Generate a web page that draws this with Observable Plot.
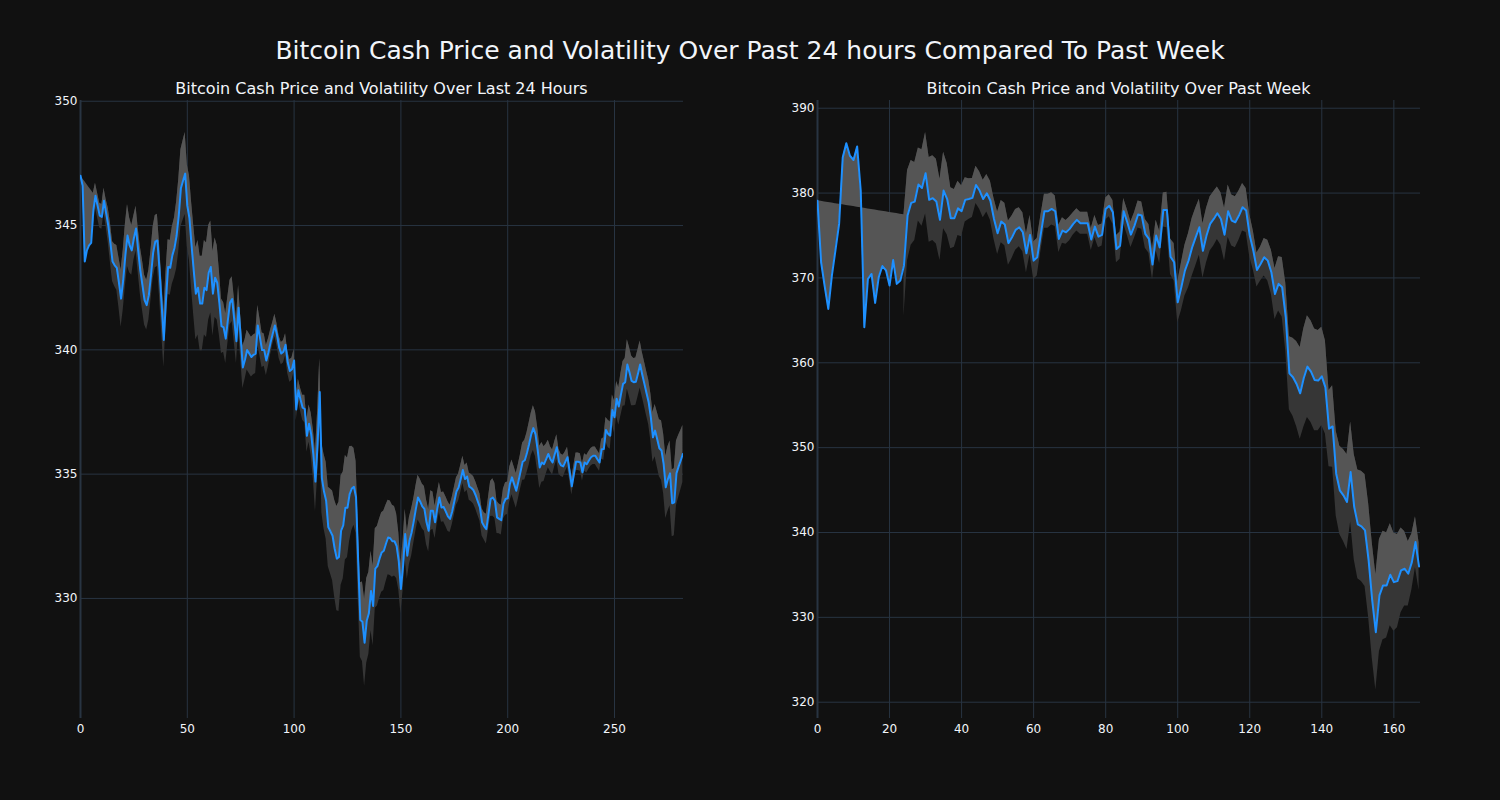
<!DOCTYPE html>
<html><head><meta charset="utf-8">
<script src="https://cdn.jsdelivr.net/npm/d3@7"></script>
<script src="https://cdn.jsdelivr.net/npm/@observablehq/plot@0.6"></script>
<style>
html,body{margin:0;padding:0;background:#111111;}
#root{position:relative;width:1500px;height:800px;background:#111111;font-family:"DejaVu Sans",sans-serif;color:#f2f5fa;overflow:hidden}
.title{position:absolute;left:0;width:1500px;top:38px;text-align:center;font-size:25px;line-height:1}
.sub{position:absolute;font-size:16px;text-align:center;width:603px;top:81px;line-height:1}
.chart{position:absolute;top:0}
</style></head><body>
<div id="root">
  <div class="title">Bitcoin Cash Price and Volatility Over Past 24 hours Compared To Past Week</div>
  <div class="sub" style="left:80px">Bitcoin Cash Price and Volatility Over Last 24 Hours</div>
  <div class="sub" style="left:817px">Bitcoin Cash Price and Volatility Over Past Week</div>
  <div class="chart" id="c1" style="left:0px"></div>
  <div class="chart" id="c2" style="left:737px"></div>
</div>
<script>
// ---- 24 hours ----
const price24 = [
347.0,346.6,343.55,344.0,344.2,344.3,345.6,346.2,345.8,345.4,
345.35,346.0,345.5,345.0,344.3,343.55,343.4,343.3,342.7,342.06,
342.8,343.8,344.6,344.2,344.0,344.5,344.88,344.0,343.2,342.6,
342.0,341.8,342.2,343.0,343.9,344.35,344.4,343.2,341.8,340.4,
342.0,343.33,343.3,343.8,344.1,344.6,345.4,346.5,346.8,347.09,
345.8,345.3,344.2,343.2,342.26,342.5,341.86,341.86,342.5,342.4,
343.1,343.33,342.26,342.9,342.7,341.9,340.95,340.9,340.45,341.2,
341.9,342.04,341.2,340.35,341.69,340.5,339.29,339.6,339.99,339.85,
339.71,339.8,339.85,340.98,340.5,339.99,339.99,339.57,339.9,340.3,
340.65,340.98,340.6,340.1,339.85,339.92,340.2,339.5,339.15,339.22,
339.57,337.6,338.37,338.0,337.67,337.62,336.54,337.03,336.6,335.8,
334.7,336.2,338.3,334.84,334.3,333.93,332.87,332.7,332.52,332.0,
331.6,331.67,332.73,332.94,333.65,333.65,334.2,334.42,334.49,334.07,
331.5,329.13,329.06,328.22,329.1,329.4,330.3,329.7,331.2,331.3,
331.6,331.85,331.92,332.2,332.45,332.42,332.3,332.3,332.1,331.5,
330.38,331.3,332.59,331.72,332.32,332.65,333.1,333.6,334.06,333.9,
333.7,333.6,333.06,332.72,333.53,333.53,333.06,333.6,334.06,333.66,
333.68,333.5,333.3,333.2,333.5,333.9,334.3,334.46,334.8,335.17,
334.8,334.9,334.5,334.44,334.35,334.15,333.9,333.66,333.06,332.9,
332.79,333.4,334.0,334.06,333.93,333.26,333.2,333.15,333.8,334.0,
334.03,334.6,334.87,334.6,334.33,334.7,335.1,335.5,335.56,335.85,
336.2,336.6,336.85,336.61,336.0,335.27,335.47,335.4,335.6,335.81,
335.6,335.47,335.8,336.08,335.5,335.35,335.31,335.5,335.68,335.1,
334.51,335.0,335.5,335.5,335.47,335.07,335.47,335.4,335.55,335.68,
335.74,335.74,335.6,335.47,336.0,336.01,336.78,336.62,336.55,337.58,
337.29,338.03,337.72,338.2,338.63,338.7,339.41,339.1,338.75,338.7,
338.72,339.05,339.41,339.0,338.63,338.25,337.89,337.29,336.48,336.75,
336.4,336.04,335.95,335.41,334.47,334.8,335.03,333.83,333.87,335.03,
335.3,335.55,335.81
];
const vol24 = [
null,null,null,null,null,null,0.7,0.5,0.5,0.5,
0.5,0.5,0.55,0.7,0.8,0.8,0.85,0.9,1.0,1.15,
1.2,1.25,1.25,1.1,1.0,0.9,0.9,0.9,0.95,1.0,
1.0,1.0,1.0,1.0,1.05,1.05,1.05,1.05,1.1,1.1,
1.1,1.1,1.1,1.15,1.2,1.35,1.45,1.55,1.6,1.65,
1.65,1.7,1.75,1.8,1.85,1.9,1.9,1.9,1.9,1.9,
1.9,1.85,1.7,1.6,1.5,1.3,1.1,1.0,1.0,0.95,
0.9,0.9,0.9,0.9,0.9,0.85,0.85,0.8,0.8,0.8,
0.8,0.8,0.8,0.8,0.75,0.7,0.65,0.6,0.55,0.5,
0.45,0.45,0.45,0.45,0.45,0.45,0.45,0.45,0.45,0.45,
0.45,0.45,0.45,0.45,0.5,0.55,0.65,0.75,0.85,1.0,
1.2,1.3,1.35,1.4,1.5,1.55,1.6,1.7,1.8,1.95,
2.1,2.2,2.2,2.15,2.1,2.0,1.9,1.7,1.55,1.45,
1.45,1.5,1.6,1.75,1.7,1.65,1.6,1.6,1.6,1.6,
1.6,1.6,1.6,1.55,1.5,1.5,1.45,1.4,1.3,1.15,
1.0,1.0,1.0,0.95,0.95,0.95,0.9,0.9,0.9,0.9,
0.9,0.9,0.9,0.85,0.8,0.75,0.65,0.6,0.6,0.6,
0.6,0.6,0.6,0.55,0.55,0.55,0.55,0.55,0.55,0.55,
0.55,0.55,0.55,0.55,0.55,0.55,0.55,0.55,0.55,0.55,
0.6,0.65,0.7,0.75,0.7,0.65,0.6,0.6,0.6,0.65,
0.65,0.7,0.7,0.7,0.7,0.7,0.7,0.75,0.8,0.8,
0.85,0.85,0.9,0.9,0.9,0.85,0.8,0.7,0.6,0.55,
0.5,0.5,0.5,0.5,0.5,0.45,0.45,0.4,0.4,0.35,
0.35,0.35,0.35,0.35,0.35,0.35,0.35,0.35,0.35,0.35,
0.35,0.35,0.35,0.35,0.4,0.45,0.5,0.55,0.55,0.6,
0.65,0.7,0.75,0.85,0.9,0.95,1.0,1.0,1.0,0.95,
0.95,0.95,0.95,0.9,0.9,0.9,0.9,0.95,1.0,1.05,
1.1,1.15,1.2,1.2,1.25,1.3,1.3,1.35,1.35,1.3,
1.25,1.2,1.15
];
// ---- past week ----
const priceWeek = [
379.1,371.85,369.0,366.35,370.3,373.3,376.37,384.2,385.87,384.4,
383.9,385.5,380.3,364.2,369.9,370.47,367.05,370.1,371.4,370.9,
369.1,372.1,369.3,369.7,371.45,377.35,378.84,379.0,381.0,380.6,
382.34,379.2,379.4,379.0,376.84,380.3,379.3,377.03,377.03,378.2,
377.86,379.2,379.3,379.43,380.96,380.3,379.3,379.98,379.1,376.95,
375.26,376.64,376.29,374.1,374.8,375.66,375.97,375.38,372.9,375.07,
372.04,372.44,375.2,377.86,377.86,378.13,377.86,374.6,375.58,375.38,
375.78,376.37,376.84,376.44,376.44,376.44,374.52,376.05,374.87,375.07,
378.13,378.5,377.74,373.4,373.8,377.86,376.56,375.1,376.17,377.47,
377.35,375.2,374.6,371.57,375.0,373.6,378.0,378.0,372.5,371.85,
367.13,368.9,370.86,372.04,373.6,374.8,375.97,373.2,375.0,376.37,
376.95,377.62,376.95,375.1,377.86,376.76,376.56,377.35,378.33,377.94,
374.99,373.2,370.94,371.65,372.44,372.04,370.67,368.11,369.3,368.9,
365.36,358.76,358.3,357.5,356.4,358.2,359.55,358.96,357.98,357.9,
358.4,357.1,352.24,352.5,346.93,344.97,344.38,343.6,347.13,343.0,
340.96,340.72,340.24,336.71,331.99,328.25,332.58,333.76,333.76,335.02,
334.15,334.27,335.53,335.73,335.14,336.51,338.87,336.0
];
const volWeek = [
null,null,null,null,null,null,null,null,null,null,
null,null,null,null,null,null,null,null,null,null,
null,null,null,null,6.0,5.3,5.0,4.6,4.3,4.5,
4.8,5.0,5.0,5.0,4.8,4.5,4.2,3.6,3.4,3.2,
3.0,2.6,2.4,2.3,2.2,2.2,2.2,2.2,2.3,2.4,
2.5,2.5,2.5,2.6,2.5,2.4,2.3,2.3,2.3,2.3,
2.2,2.2,2.1,2.0,2.0,1.9,1.8,1.6,1.5,1.4,
1.4,1.3,1.3,1.3,1.3,1.3,1.3,1.3,1.3,1.3,
1.3,1.3,1.4,1.6,1.6,1.5,1.5,1.5,1.5,1.6,
1.6,1.7,1.7,1.8,1.8,1.9,2.0,2.1,2.1,2.2,
2.4,2.8,3.0,3.2,3.4,3.4,3.3,3.2,3.2,3.2,
3.2,3.1,3.1,3.1,3.1,3.0,3.0,2.9,2.8,2.6,
2.5,2.3,2.0,2.0,2.2,2.4,2.6,3.0,3.2,3.5,
4.0,4.3,4.6,5.0,5.4,5.8,6.0,6.0,6.0,5.9,
5.8,5.5,4.5,4.8,5.0,5.2,5.4,5.6,5.9,6.2,
6.4,6.5,6.6,6.7,6.8,6.8,6.6,6.4,6.2,6.0,
5.8,5.5,5.0,4.4,3.8,3.3,3.0,2.8
];
const ticks24X = [0, 50, 100, 150, 200, 250];
const ticks24Y = [330, 335, 340, 345, 350];
const ticksWeekX = [0, 20, 40, 60, 80, 100, 120, 140, 160];
const ticksWeekY = [320, 330, 340, 350, 360, 370, 380, 390];

function panel(price, vol, xDomain, yDomain, xTicks, yTicks) {
  const w = vol.findIndex(v => v != null);
  const rows = price.map((p, i) => ({i, p, v: vol[i]}));
  const band = rows.filter(d => d.v != null).map(d => ({i: d.i, lo: d.p - d.v, hi: d.p + d.v}));
  const hiW = price[w] + vol[w];
  // fill between price and upper band; before the band starts the fill closes on a chord back to the first price
  const light = rows.map(d => ({i: d.i, p: d.p,
    top: d.v != null ? d.p + d.v : price[0] + (hiW - price[0]) * d.i / w}));
  return Plot.plot({
    width: 750, height: 800,
    marginLeft: 80, marginRight: 67, marginTop: 100, marginBottom: 82,
    style: {background: "transparent", color: "#f2f5fa", fontFamily: "DejaVu Sans, sans-serif", fontSize: "12px"},
    x: {domain: xDomain},
    y: {domain: yDomain},
    marks: [
      Plot.gridX(xTicks, {stroke: "#283442", strokeOpacity: 1}),
      Plot.gridY(yTicks, {stroke: "#283442", strokeOpacity: 1}),
      Plot.ruleX([0], {stroke: "#283442", strokeWidth: 2}),
      Plot.areaY(band, {x: "i", y1: "lo", y2: "hi", fill: "#363636", clip: true}),
      Plot.areaY(light, {x: "i", y1: "p", y2: "top", fill: "#555555", clip: true}),
      Plot.lineY(rows, {x: "i", y: "p", stroke: "#1e90ff", strokeWidth: 2, clip: true}),
      Plot.axisX(xTicks, {tickSize: 0, tickPadding: 6, label: null, fill: "#f2f5fa"}),
      Plot.axisY(yTicks, {tickSize: 0, tickPadding: 3, label: null, fill: "#f2f5fa"})
    ]
  });
}

document.getElementById("c1").appendChild(panel(price24, vol24, [0, 282.3], [325.17, 350.03], ticks24X, ticks24Y));
document.getElementById("c2").appendChild(panel(priceWeek, volWeek, [0, 167.4], [318.08, 390.91], ticksWeekX, ticksWeekY));
</script>
</body></html>
